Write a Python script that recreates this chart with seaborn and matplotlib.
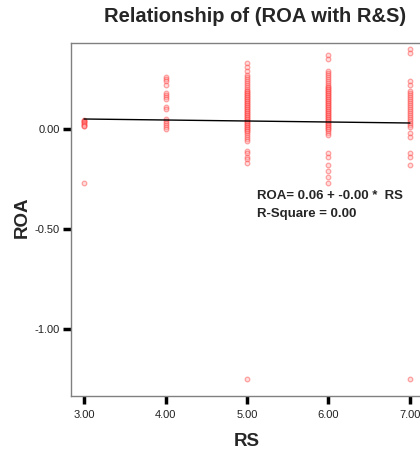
import matplotlib
matplotlib.use("Agg")
import matplotlib.pyplot as plt
import seaborn as sns
import numpy as np
import pandas as pd

sns.set_style("white")
plt.rcParams['font.family'] = ['Liberation Sans', 'DejaVu Sans']

# ---- data ----
rs_levels = [3, 4, 5, 6, 7]
roa_rs3 = [0.047, 0.042, 0.038, 0.033, 0.029, 0.025, 0.021, 0.017, 0.013, -0.27]
roa_rs4 = [0.26, 0.25, 0.24, 0.22, 0.18, 0.17, 0.16, 0.15, 0.11, 0.10,
           0.05, 0.04, 0.03, 0.02, 0.01, 0.00]
roa_rs5 = [0.33, 0.31, 0.29, 0.27, 0.26, 0.25, 0.24, 0.23, 0.22, 0.21, 0.20,
           0.19, 0.19, 0.18, 0.18, 0.17, 0.17, 0.16, 0.16, 0.15, 0.15, 0.14,
           0.14, 0.13, 0.13, 0.12, 0.12, 0.11, 0.11, 0.10, 0.10, 0.09, 0.09,
           0.08, 0.08, 0.07, 0.07, 0.06, 0.06, 0.05, 0.05, 0.04, 0.04, 0.03,
           0.03, 0.02, 0.02, 0.01, 0.01, 0.00, 0.00, -0.01, -0.01, -0.02,
           -0.03, -0.04, -0.05, -0.06, -0.11, -0.12, -0.14, -0.15, -0.17,
           -1.25]
roa_rs6 = [0.37, 0.35, 0.29, 0.28, 0.27, 0.26, 0.25, 0.24, 0.23, 0.22, 0.21,
           0.21, 0.20, 0.20, 0.19, 0.19, 0.18, 0.18, 0.17, 0.17, 0.16, 0.16,
           0.15, 0.15, 0.14, 0.14, 0.13, 0.13, 0.12, 0.12, 0.11, 0.11, 0.10,
           0.10, 0.09, 0.09, 0.08, 0.08, 0.07, 0.07, 0.06, 0.06, 0.05, 0.05,
           0.04, 0.04, 0.03, 0.03, 0.02, 0.02, 0.01, 0.01, 0.00, 0.00, -0.01,
           -0.02, -0.03, -0.12, -0.14, -0.18, -0.21, -0.24, -0.27]
roa_rs7 = [0.40, 0.38, 0.24, 0.22, 0.19, 0.18, 0.17, 0.16, 0.15, 0.14, 0.13,
           0.12, 0.11, 0.10, 0.09, 0.08, 0.07, 0.06, 0.05, 0.04, 0.03, 0.02,
           0.01, -0.02, -0.04, -0.12, -0.14, -0.18, -1.25]
fit_intercept = 0.065
fit_slope = -0.005
xtick_vals = [3, 4, 5, 6, 7]
xtick_labels = ["3.00", "4.00", "5.00", "6.00", "7.00"]
ytick_vals = [0.0, -0.5, -1.0]
ytick_labels = ["0.00", "-0.50", "-1.00"]

groups = [roa_rs3, roa_rs4, roa_rs5, roa_rs6, roa_rs7]
df = pd.DataFrame({
    "RS": np.concatenate([[rs] * len(g) for rs, g in zip(rs_levels, groups)]),
    "ROA": np.concatenate(groups),
})
fit_x = np.array([rs_levels[0], rs_levels[-1]], dtype=float)
fit_df = pd.DataFrame({"RS": fit_x, "ROA": fit_intercept + fit_slope * fit_x})

W, H = 420, 458
fig = plt.figure(figsize=(W / 100, H / 100), dpi=100)
ax = fig.add_axes([71 / W, (H - 396) / H, (423 - 71) / W, (396 - 43) / H])

sns.scatterplot(data=df, x="RS", y="ROA", ax=ax, marker="o", s=11,
                facecolor="#ffb0b0", edgecolor="#ff3030", linewidth=0.9,
                alpha=0.42, zorder=2)
sns.lineplot(data=fit_df, x="RS", y="ROA", ax=ax, color="black",
             linewidth=1.0, zorder=3)

ax.set_xlim(2.84, 7.16)
ax.set_ylim(-1.335, 0.43)
ax.set_xticks(xtick_vals)
ax.set_xticklabels(xtick_labels)
ax.set_yticks(ytick_vals)
ax.set_yticklabels(ytick_labels)
ax.tick_params(axis="both", direction="out", length=6, width=2.5,
               color="black", labelsize=8, labelcolor="#222222",
               bottom=True, left=True)
ax.tick_params(axis="x", pad=4)
ax.tick_params(axis="y", pad=2)
for side in ["left", "top", "bottom"]:
    ax.spines[side].set_color("#808080")
    ax.spines[side].set_linewidth(1.0)
ax.spines["right"].set_visible(False)
ax.set_xlabel("")
ax.set_ylabel("")

fig.text(255 / W, 1 - 17 / H, "Relationship of (ROA with R&S)", ha="center",
         va="center", fontsize=14.5, fontweight="bold")
fig.text(247 / W, 1 - 441 / H, "RS", ha="center", va="center",
         fontsize=13.5, fontweight="bold")
fig.text(22 / W, 1 - 217 / H, "ROA", ha="center", va="center",
         fontsize=13.5, fontweight="bold", rotation=90)
fig.text(257 / W, 1 - 196 / H, "ROA= 0.06 + -0.00 *  RS", ha="left",
         va="center", fontsize=9.5, fontweight="bold")
fig.text(257 / W, 1 - 214 / H, "R-Square = 0.00", ha="left",
         va="center", fontsize=9.5, fontweight="bold")

fig.savefig("out.png", dpi=100)
